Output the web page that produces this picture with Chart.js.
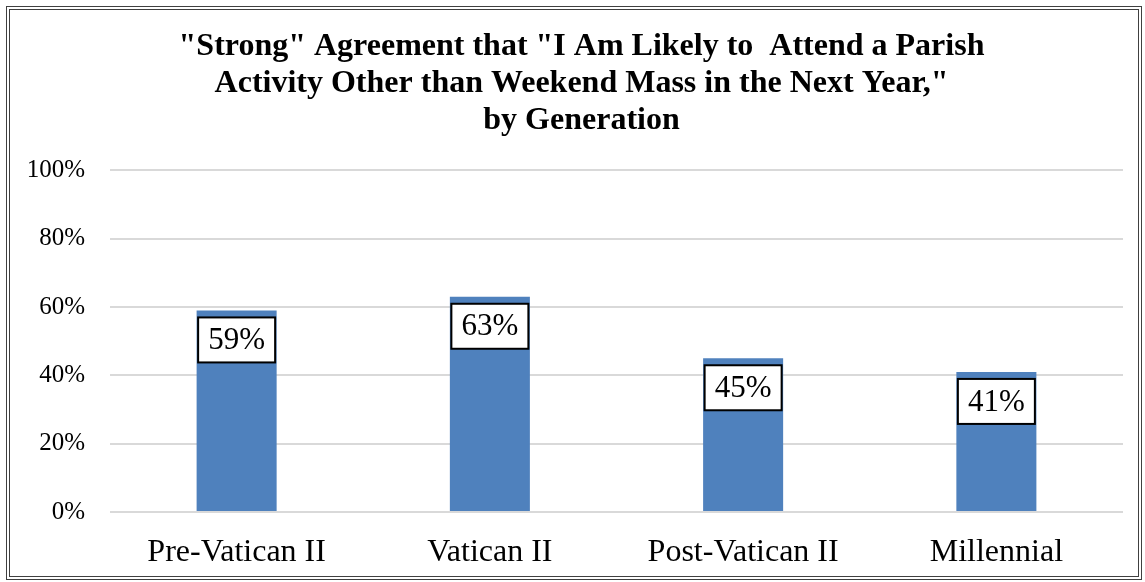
<!DOCTYPE html>
<html>
<head>
<meta charset="utf-8">
<script src="https://cdn.jsdelivr.net/npm/chart.js@4.4.0/dist/chart.umd.min.js"></script>
<style>
  html, body { margin: 0; padding: 0; background: #fff; }
  #frame {
    position: absolute; left: 6px; top: 6px;
    width: 1128px; height: 566px;
    border: 4px double #404040;
  }
  canvas { display: block; }
</style>
</head>
<body>
<div id="frame"><canvas id="genChart" width="1128" height="566"></canvas></div>
<script>
// 資料
const generations = ["Pre-Vatican II", "Vatican II", "Post-Vatican II", "Millennial"];
const strongAgree = [59, 63, 45, 41];
const titleLines = [
  "\"Strong\" Agreement that \"I Am Likely to  Attend a Parish",
  "Activity Other than Weekend Mass in the Next Year,\"",
  "by Generation"
];
const SERIF = '"Liberation Serif", "Times New Roman", serif';

// 長條上方的白底框標籤
const boxLabels = {
  id: 'boxLabels',
  afterLayout(chart) {
    // 讓 y 軸標籤不被裁切
    chart.scales.y.left = 0;
  },
  afterDatasetsDraw(chart) {
    const ctx = chart.ctx;
    const meta = chart.getDatasetMeta(0);
    ctx.save();
    ctx.font = '31px ' + SERIF;
    ctx.textAlign = 'center';
    ctx.textBaseline = 'middle';
    meta.data.forEach((bar, i) => {
      const text = strongAgree[i] + '%';
      const w = 77, h = 45;
      const x = bar.x - 38.5;
      const y = bar.y + 7;
      ctx.fillStyle = '#fff';
      ctx.fillRect(x, y, w, h);
      ctx.strokeStyle = '#000';
      ctx.lineWidth = 2;
      ctx.strokeRect(x, y, w, h);
      ctx.fillStyle = '#000';
      ctx.fillText(text, x + w / 2, y + h / 2 + 1);
    });
    ctx.restore();
  }
};

new Chart(document.getElementById('genChart').getContext('2d'), {
  type: 'bar',
  data: {
    labels: generations,
    datasets: [{
      data: strongAgree,
      backgroundColor: '#4F81BD',
      categoryPercentage: 1,
      barPercentage: 0.316
    }]
  },
  options: {
    responsive: false,
    animation: false,
    layout: { padding: { left: 30, right: 15, top: 0, bottom: 7 } },
    plugins: {
      legend: { display: false },
      tooltip: { enabled: false },
      title: {
        display: true,
        text: titleLines,
        color: '#000',
        font: { family: SERIF, size: 32, weight: 'bold', lineHeight: 1.16 },
        padding: { top: 18, bottom: 31 }
      }
    },
    scales: {
      x: {
        grid: { display: false, drawTicks: false },
        border: { display: false },
        afterFit(scale) { scale.height = 57; },
        ticks: {
          color: '#000',
          padding: 21,
          font: { family: SERIF, size: 32 }
        }
      },
      y: {
        min: 0,
        max: 100,
        grid: { color: '#d9d9d9', lineWidth: 2, drawTicks: false },
        border: { display: false },
        afterFit(scale) { scale.width = 70; },
        ticks: {
          stepSize: 20,
          color: '#000',
          padding: 25,
          font: { family: SERIF, size: 25 },
          callback: v => v + '%'
        }
      }
    }
  },
  plugins: [boxLabels]
});
</script>
</body>
</html>
